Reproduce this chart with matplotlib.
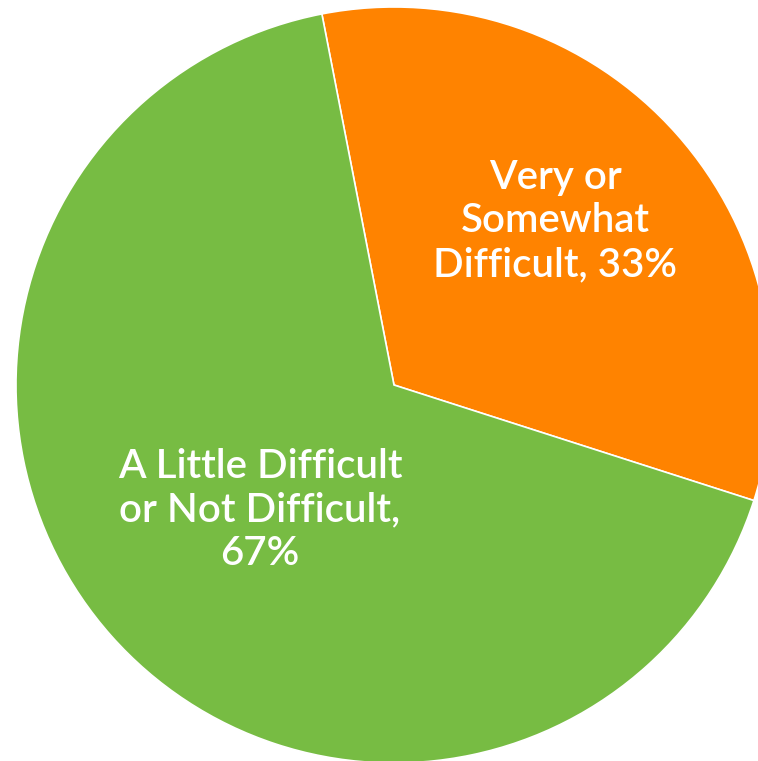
import matplotlib.pyplot as plt

# slice data
labels = ['Very or\nSomewhat\nDifficult, 33%', 'A Little Difficult\nor Not Difficult,\n67%']
values = [33, 67]
colors = ['#FF8300', '#77BC43']

fig = plt.figure(figsize=(7.58, 7.61), dpi=100)
ax = fig.add_axes([0, 0, 1, 1])

wedges, _ = ax.pie(values, colors=colors, startangle=101, counterclock=False,
                   radius=1.0, center=(0, 0),
                   wedgeprops=dict(edgecolor='white', linewidth=1.2))

# pie is cropped at right and bottom in the original
ax.set_xlim(-1.0423, 0.963)
ax.set_ylim(-0.9947, 1.0185)
ax.set_aspect('equal')
ax.axis('off')

ax.text(0.4259, 0.4339, labels[0], ha='center', va='center', color='white',
        fontsize=29, fontfamily='Lato', fontweight='semibold', linespacing=1.22)
ax.text(-0.3545, -0.3307, labels[1], ha='center', va='center', color='white',
        fontsize=29, fontfamily='Lato', fontweight='semibold', linespacing=1.22)

fig.savefig('out.png', dpi=100)
